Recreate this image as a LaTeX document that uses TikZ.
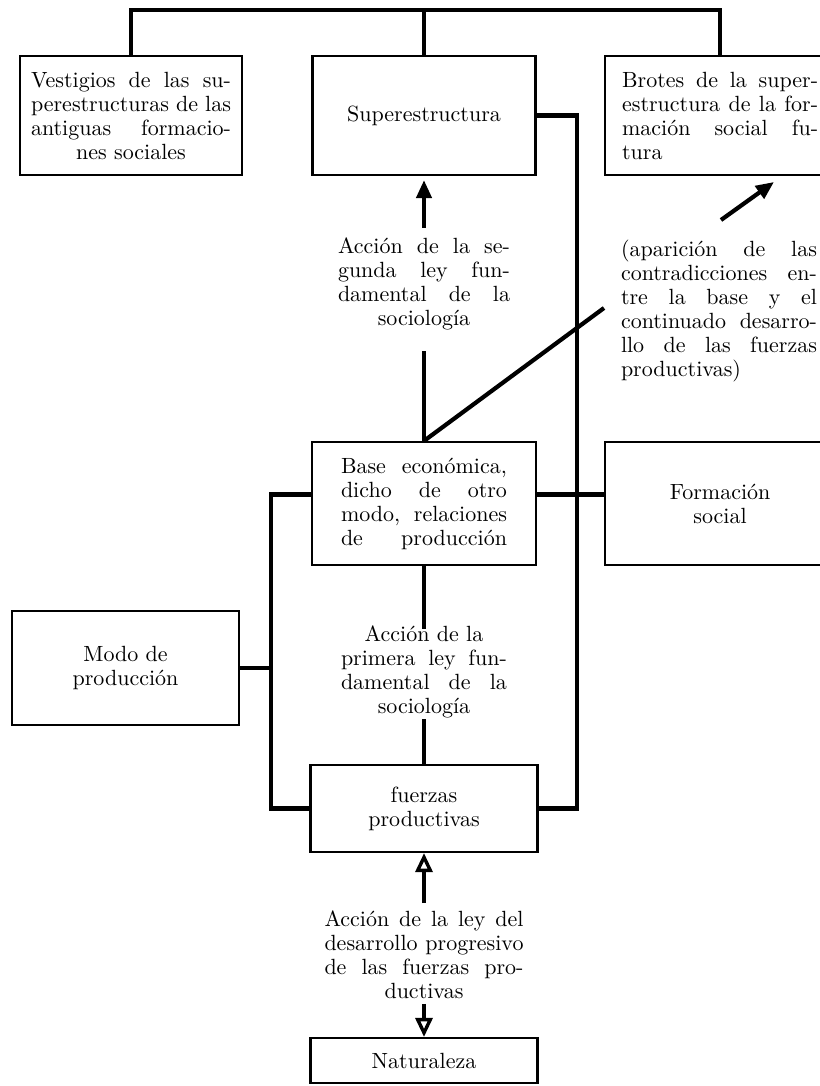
\documentclass[tikz,border=0pt]{standalone}
\usepackage{fontspec}
\setmainfont{lmroman10-regular}[Extension=.otf]
\usetikzlibrary{arrows.meta, positioning}
% one justified line of a block
\newcommand{\jline}[2]{\makebox[#1][s]{#2}}
\tikzset{
  box/.style={
    draw, line width=2.2pt, inner sep=0pt, align=center,
    font=\fontsize{22}{24}\selectfont
  },
  txt/.style={inner sep=0pt, align=center, font=\fontsize{22}{24}\selectfont},
  link/.style={line width=4.2pt},
  fullarrow/.style={line width=4.2pt, -{Triangle[length=18pt, width=15pt]}},
  openarrow/.style={line width=3.4pt, -{Triangle[open, length=19pt, width=17pt]}}
}

\begin{document}
\begin{tikzpicture}[x=1pt, y=-1pt]
  \useasboundingbox (0,0) rectangle (819,1086);

  % ---- Top row ------------------------------------------------------------
  \node[box, minimum width=222pt, minimum height=119pt] (vest) at (131,115.5)
    {\jline{200pt}{Vestigios de las su-}\\
     \jline{200pt}{perestructuras de las}\\
     \jline{200pt}{antiguas formacio-}\\
     nes sociales};
  \node[box, minimum width=223pt, minimum height=119pt] (sup) at (424,115.5)
    {Superestructura};
  \node[box, minimum width=230pt, minimum height=119pt, anchor=west] (brot)
    at (604,115.5)
    {\jline{196pt}{Brotes de la super-}\\
     \jline{196pt}{estructura de la for-}\\
     \jline{196pt}{mación social fu-}\\
     \makebox[196pt][l]{tura}};

  % ---- Middle row ---------------------------------------------------------
  \node[box, minimum width=224pt, minimum height=123pt] (base) at (424,503.5)
    {\jline{166pt}{Base económica,}\\
     \jline{166pt}{dicho de otro}\\
     \jline{166pt}{modo, relaciones}\\
     \jline{166pt}{de producción}};
  \node[box, minimum width=230pt, minimum height=123pt, anchor=west] (form)
    at (604,503.5) {Formación\\ social};
  \node[box, minimum width=227pt, minimum height=114pt] (modo) at (125.5,668)
    {Modo de\\ producción};

  % ---- Bottom column ------------------------------------------------------
  \node[box, minimum width=227pt, minimum height=87pt] (fuer) at (424,808.5)
    {fuerzas\\ productivas};
  \node[box, minimum width=227pt, minimum height=45pt] (natu) at (424,1060.5)
    {Naturaleza};

  % ---- Texts between the boxes -------------------------------------------
  \node[txt] (seg) at (424,284)
    {\jline{172pt}{Acción de la se-}\\
     \jline{172pt}{gunda ley fun-}\\
     \jline{172pt}{damental de la}\\
     sociología};
  \node[txt] (apa) at (719,311)
    {\jline{196pt}{(aparición de las}\\
     \jline{196pt}{contradicciones en-}\\
     \jline{196pt}{tre la base y el}\\
     \jline{196pt}{continuado desarro-}\\
     \jline{196pt}{llo de las fuerzas}\\
     \makebox[196pt][l]{productivas)}};
  \node[txt] (pri) at (424,672)
    {Acción de la\\
     \jline{166pt}{primera ley fun-}\\
     \jline{166pt}{damental de la}\\
     sociología};
  \node[txt] (des) at (424,954.5)
    {\jline{199pt}{Acción de la ley del}\\
     \jline{199pt}{desarrollo progresivo}\\
     \jline{199pt}{de las fuerzas pro-}\\
     ductivas};

  % ---- Connectors ---------------------------------------------------------
  \coordinate (bus) at (0,10);
  \coordinate (rrail) at (577,0);
  \coordinate (lrail) at (271,0);
  \coordinate (diagend) at (604,308);
  \coordinate (dtail) at (721,220);
  \coordinate (dtip) at (774,182);

  \draw[link] (vest.north) |- (bus -| brot.north) -- (brot.north);
  \draw[link] (sup.north) -- (sup.north |- bus);
  \draw[link] (sup.east) -| (rrail |- fuer.east) -- (fuer.east);
  \draw[link] ([yshift=9pt]base.west) -| (lrail |- fuer.west) -- (fuer.west);
  \draw[link] (modo.east) -- (modo.east -| lrail);
  \draw[link] ([yshift=9pt]base.east) -- ([yshift=9pt]form.west);

  \draw[fullarrow] ([yshift=10pt]seg.north) -- ([yshift=-4pt]sup.south);
  \draw[link] (base.north) -- ++(0,-90);
  \draw[link] (base.north) -- (diagend);
  \draw[fullarrow] (dtail) -- (dtip);

  \draw[link] (base.south) -- ++(0,63);
  \draw[link] (fuer.north) -- ++(0,-45);

  \draw[openarrow] ([yshift=-50pt]fuer.south) -- (fuer.south);
  \draw[openarrow] ([yshift=33pt]natu.north) -- (natu.north);

\end{tikzpicture}
\end{document}
